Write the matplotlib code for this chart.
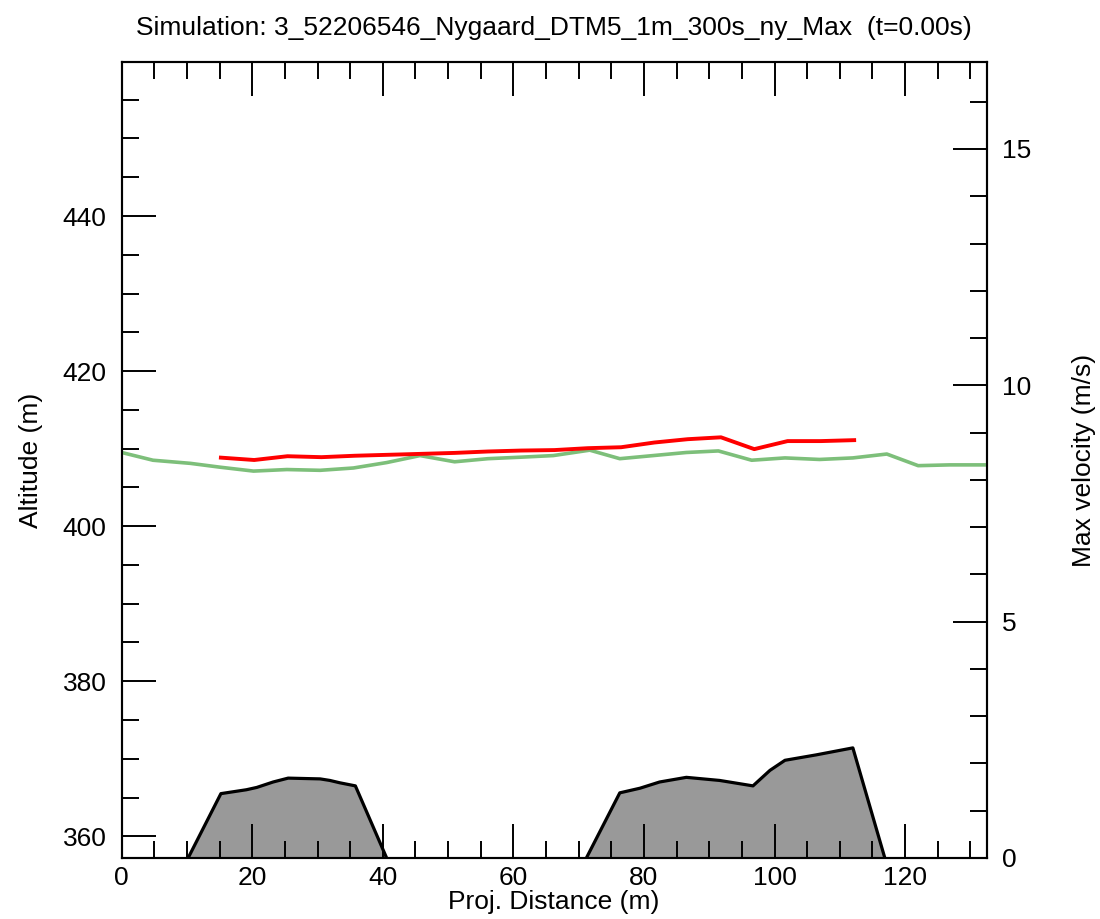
import numpy as np
import matplotlib.pyplot as plt
from matplotlib.ticker import MultipleLocator

plt.rcParams['font.family'] = ['Liberation Sans', 'DejaVu Sans']

#DATA
# terrain profile (NaN where it is below the visible range)
terrain_x = [10.0, 15.2, 19.1, 20.7, 23.2, 25.5, 30.4, 31.9, 33.4, 35.8, 41.0, 46.0,
             66.0, 71.0, 76.3, 79.4, 82.4, 86.5, 91.6, 96.7, 99.3, 101.6, 106.4, 112.0, 117.0, 122.0]
terrain_alt = [356.9, 365.5, 366.0, 366.3, 367.0, 367.5, 367.4, 367.2, 366.9, 366.5, 356.4, np.nan,
               np.nan, 356.9, 365.6, 366.2, 367.0, 367.6, 367.2, 366.5, 368.5, 369.8, 370.5, 371.4, 356.9, np.nan]

# max velocity along the profile (right axis)
vel_x = [15.2, 20.3, 25.4, 30.6, 35.7, 40.8, 45.9, 51.0, 56.1, 61.2, 66.3, 71.4,
         76.5, 81.6, 86.7, 91.8, 96.9, 102.0, 107.1, 112.2]
vel = [8.47, 8.42, 8.50, 8.48, 8.51, 8.53, 8.55, 8.57, 8.60, 8.62, 8.63, 8.67,
       8.69, 8.79, 8.86, 8.90, 8.65, 8.82, 8.82, 8.84]

# green line (left axis, altitude)
green_x = [0.0, 4.8, 10.5, 15.1, 20.2, 25.3, 30.4, 35.5, 40.6, 45.7, 51.0, 56.1, 61.3,
           66.1, 71.7, 76.3, 81.4, 86.5, 91.4, 96.5, 101.6, 106.9, 112.0, 117.2, 122.0, 126.8, 132.5]
green_alt = [409.5, 408.5, 408.1, 407.6, 407.1, 407.3, 407.2, 407.5, 408.2, 409.1, 408.3, 408.7, 408.9,
             409.1, 409.8, 408.7, 409.1, 409.5, 409.7, 408.5, 408.8, 408.6, 408.8, 409.3, 407.8, 407.9, 407.9]

title = 'Simulation: 3_52206546_Nygaard_DTM5_1m_300s_ny_Max  (t=0.00s)'

#PLOT
fig = plt.figure(figsize=(11, 9.19), dpi=100)
ax = fig.add_axes([0.1106, 0.0664, 0.7864, 0.8656])
ax2 = ax.twinx()

tx = np.array(terrain_x)
ta = np.array(terrain_alt)
ax.fill_between(tx, ta, 340, where=~np.isnan(ta), color='#999999', lw=0, zorder=1)
ax.plot(tx, ta, color='black', lw=2.3, zorder=2)
ax.plot(green_x, green_alt, color='#7dbf7a', lw=2.6, zorder=3)
ax2.plot(vel_x, vel, color='#ff0000', lw=2.8, zorder=4)

ax.set_xlim(0, 132.5)
ax.set_ylim(357.2, 459.8)
ax2.set_ylim(0, 16.83)

ax.xaxis.set_major_locator(MultipleLocator(20))
ax.xaxis.set_minor_locator(MultipleLocator(5))
ax.yaxis.set_major_locator(MultipleLocator(20))
ax.yaxis.set_minor_locator(MultipleLocator(5))
ax2.yaxis.set_major_locator(MultipleLocator(5))
ax2.yaxis.set_minor_locator(MultipleLocator(1))

ax.tick_params(axis='x', which='both', direction='in', top=True, labelsize=19, pad=6)
ax.tick_params(axis='y', which='both', direction='in', labelsize=19, pad=11)
ax2.tick_params(axis='y', which='both', direction='in', labelsize=19, pad=11)
for a in (ax, ax2):
    a.tick_params(which='major', length=24.5, width=1.4)
    a.tick_params(which='minor', length=12.2, width=1.4)
    for s in a.spines.values():
        s.set_linewidth(1.5)

ax.set_xlabel('Proj. Distance (m)', fontsize=19, labelpad=0)
ax.set_ylabel('Altitude (m)', fontsize=19, labelpad=14)
ax2.set_ylabel('Max velocity (m/s)', fontsize=19, labelpad=29)
ax.set_title(title, fontsize=19, pad=20)

fig.savefig('out.png', dpi=100)
